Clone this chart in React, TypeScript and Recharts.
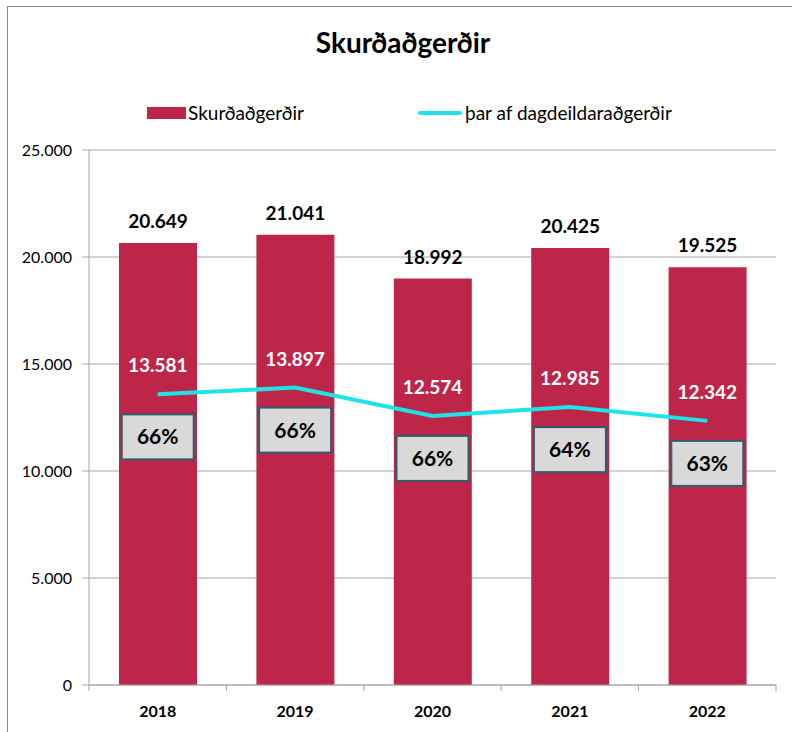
import React from 'react';
import { Bar, CartesianGrid, ComposedChart, LabelList, Line, XAxis, YAxis } from 'recharts';

const years = ['2018', '2019', '2020', '2021', '2022'];
const surgeries = [20649, 21041, 18992, 20425, 19525];
const dayCases = [13581, 13897, 12574, 12985, 12342];
const shares = ['66%', '66%', '66%', '64%', '63%'];
const yTicks = [0, 5000, 10000, 15000, 20000, 25000];

const data = years.map((year, i) => ({
  year,
  surgeries: surgeries[i],
  dayCases: dayCases[i],
  share: shares[i],
}));

const FONT = 'Lato, "Open Sans", sans-serif';
const BAR_COLOR = '#be2649';
const LINE_COLOR = '#1ee3e8';

const fmt = (n: number) => String(n).replace(/\B(?=(\d{3})+(?!\d))/g, '.');

const XTick = (props: any) => {
  const { x, y, payload } = props;
  const half = 137.4 / 2;
  return (
    <g>
      <line x1={x - half} y1={y - 8} x2={x - half} y2={y - 2} stroke="#a6a6a6" />
      {payload.index === years.length - 1 && (
        <line x1={x + half} y1={y - 8} x2={x + half} y2={y - 2} stroke="#a6a6a6" />
      )}
      <text x={x} y={y + 24} textAnchor="middle" fontFamily={FONT} fontWeight={700} fontSize={16} fill="#000">
        {payload.value}
      </text>
    </g>
  );
};

const DayCaseLabel = (props: any) => {
  const { x, y, index } = props;
  return (
    <g>
      <text x={x} y={y - 22} textAnchor="middle" fontFamily={FONT} fontWeight={700} fontSize={19} fill="#fff">
        {fmt(dayCases[index])}
      </text>
      <rect x={x - 36} y={y + 20} width={72} height={45} fill="#d9d9d9" stroke="#2e5d6b" strokeWidth={2} />
      <text x={x} y={y + 50} textAnchor="middle" fontFamily={FONT} fontWeight={700} fontSize={21} fill="#000">
        {shares[index]}
      </text>
    </g>
  );
};

export default function App() {
  return (
    <div style={{ position: 'absolute', left: 0, top: 0, width: 792, height: 732, background: '#fff' }}>
      <div
        style={{
          position: 'absolute',
          left: 7,
          top: 6,
          width: 785,
          height: 726,
          borderLeft: '1px solid #8c8c8c',
          borderTop: '1px solid #8c8c8c',
        }}
      />
      <div
        style={{
          position: 'absolute',
          left: 7,
          top: 25,
          width: 792,
          textAlign: 'center',
          fontFamily: FONT,
          fontWeight: 700,
          fontSize: 28,
          lineHeight: '34px',
          color: '#000',
        }}
      >
        Skurðaðgerðir
      </div>
      <div style={{ position: 'absolute', left: 0, top: 101, width: 792, height: 24, fontFamily: FONT, fontSize: 19, color: '#000' }}>
        <div style={{ position: 'absolute', left: 147, top: 6, width: 39, height: 12, background: BAR_COLOR }} />
        <div style={{ position: 'absolute', left: 188, top: 0, lineHeight: '24px' }}>Skurðaðgerðir</div>
        <div style={{ position: 'absolute', left: 418, top: 10, width: 44, height: 4, borderRadius: 2, background: LINE_COLOR }} />
        <div style={{ position: 'absolute', left: 465, top: 0, lineHeight: '24px' }}>þar af dagdeildaraðgerðir</div>
      </div>
      <div style={{ position: 'absolute', left: 0, top: 0 }}>
        <ComposedChart width={792} height={732} data={data} margin={{ top: 150, right: 16, left: 0, bottom: 0 }}>
          <CartesianGrid vertical={false} stroke="#a6a6a6" />
          <XAxis
            dataKey="year"
            height={47}
            axisLine={{ stroke: '#a6a6a6' }}
            tickLine={false}
            tick={<XTick />}
            interval={0}
          />
          <YAxis
            width={89}
            domain={[0, 25000]}
            ticks={yTicks}
            tickFormatter={fmt}
            axisLine={{ stroke: '#a6a6a6' }}
            tickLine={{ stroke: '#a6a6a6' }}
            tickSize={7}
            tickMargin={10}
            tick={{ fontFamily: FONT, fontSize: 16, fill: '#000' }}
          />
          <Bar dataKey="surgeries" fill={BAR_COLOR} barSize={78} isAnimationActive={false}>
            <LabelList
              dataKey="surgeries"
              position="top"
              offset={15}
              formatter={(v: any) => fmt(v)}
              style={{ fontFamily: FONT, fontWeight: 700, fontSize: 19, fill: '#000' }}
            />
          </Bar>
          <Line
            dataKey="dayCases"
            stroke={LINE_COLOR}
            strokeWidth={4}
            dot={false}
            type="linear"
            isAnimationActive={false}
          >
            <LabelList dataKey="dayCases" content={<DayCaseLabel />} />
          </Line>
        </ComposedChart>
      </div>
    </div>
  );
}
